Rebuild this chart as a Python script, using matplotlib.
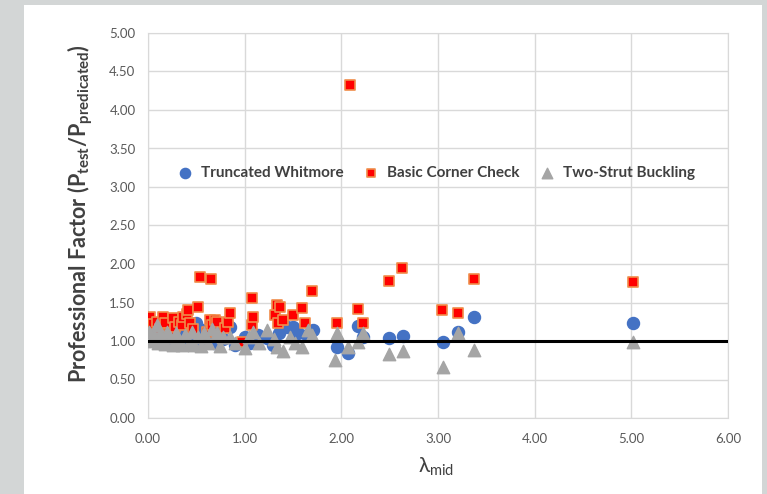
import matplotlib
matplotlib.use("Agg")
import matplotlib.pyplot as plt
from matplotlib.patches import Rectangle

plt.rcParams["font.family"] = ["Lato", "DejaVu Sans"]
plt.rcParams["mathtext.fontset"] = "custom"
plt.rcParams["mathtext.rm"] = "Lato"
plt.rcParams["mathtext.bf"] = "Lato:bold"

# Truncated Whitmore
whitmore_x = [0.02, 0.05, 0.08, 0.12, 0.15, 0.20, 0.24, 0.28, 0.33, 0.36, 0.40, 0.45,
              0.50, 0.55, 0.57, 0.62, 0.68, 0.72, 0.78, 0.85, 0.90, 1.00, 1.05, 1.14,
              1.23, 1.29, 1.35, 1.44, 1.50, 1.55, 1.64, 1.71, 1.95, 2.07, 2.17, 2.22,
              2.49, 2.64, 3.05, 3.21, 3.37, 5.02]
whitmore_y = [1.12, 1.20, 1.05, 1.15, 1.00, 1.10, 0.98, 1.08, 1.12, 0.96, 1.05, 1.18,
              1.23, 1.00, 1.14, 1.05, 0.98, 1.10, 1.02, 1.18, 0.95, 1.05, 0.97, 1.08,
              1.04, 0.95, 1.10, 1.18, 1.18, 1.10, 1.08, 1.14, 0.92, 0.84, 1.20, 1.05,
              1.04, 1.07, 0.99, 1.12, 1.31, 1.23]

# Basic Corner Check
corner_x = [0.02, 0.05, 0.09, 0.12, 0.16, 0.18, 0.22, 0.26, 0.28, 0.32, 0.35, 0.36,
            0.40, 0.41, 0.43, 0.47, 0.52, 0.54, 0.61, 0.64, 0.65, 0.66, 0.69, 0.71,
            0.80, 0.83, 0.85, 0.97, 1.08, 1.08, 1.09, 1.31, 1.33, 1.34, 1.37, 1.40,
            1.50, 1.59, 1.62, 1.70, 1.95, 2.09, 2.17, 2.22, 2.49, 2.63, 3.04, 3.21,
            3.37, 5.02]
corner_y = [1.31, 1.22, 1.25, 1.15, 1.31, 1.23, 1.10, 1.30, 1.18, 1.25, 1.21, 1.31,
            1.35, 1.40, 1.23, 1.15, 1.44, 1.83, 1.12, 1.27, 1.81, 1.21, 1.27, 1.25,
            1.17, 1.25, 1.36, 0.99, 1.56, 1.21, 1.31, 1.34, 1.47, 1.23, 1.44, 1.27,
            1.34, 1.43, 1.23, 1.65, 1.23, 4.32, 1.41, 1.23, 1.78, 1.95, 1.40, 1.36,
            1.80, 1.77]

# Two-Strut Buckling
strut_x = [0.01, 0.03, 0.06, 0.09, 0.10, 0.12, 0.15, 0.18, 0.20, 0.23, 0.26, 0.29,
           0.32, 0.35, 0.38, 0.42, 0.45, 0.48, 0.52, 0.55, 0.58, 0.62, 0.66, 0.71,
           0.74, 0.78, 0.85, 0.90, 1.00, 1.04, 1.09, 1.15, 1.23, 1.30, 1.33, 1.40,
           1.47, 1.52, 1.59, 1.65, 1.70, 1.93, 1.96, 2.07, 2.17, 2.22, 2.49, 2.64,
           3.05, 3.21, 3.37, 5.02]
strut_y = [1.12, 1.00, 1.08, 1.21, 0.97, 1.10, 1.03, 0.96, 1.12, 1.05, 0.95, 1.10,
           1.00, 0.95, 1.08, 0.97, 1.12, 0.95, 1.05, 0.94, 1.10, 0.98, 1.15, 1.10,
           0.93, 1.05, 1.05, 0.97, 0.91, 1.05, 1.12, 0.98, 1.14, 1.02, 0.92, 0.87,
           1.05, 0.98, 0.92, 1.14, 1.08, 0.75, 1.10, 0.92, 0.99, 1.10, 0.83, 0.87,
           0.66, 1.10, 0.88, 0.99]

x_ticks = [0, 1, 2, 3, 4, 5, 6]
y_ticks = [0, 0.5, 1.0, 1.5, 2.0, 2.5, 3.0, 3.5, 4.0, 4.5, 5.0]

fig = plt.figure(figsize=(7.67, 4.94), dpi=100)
fig.patch.set_facecolor("#d3d6d6")
fig.patches.append(Rectangle((24 / 767, 0), (762 - 24) / 767, 1 - 5 / 494,
                             transform=fig.transFigure, facecolor="white",
                             edgecolor="none", zorder=-10))

ax = fig.add_axes([148 / 767, 1 - 418 / 494, (728 - 148) / 767, (418 - 33) / 494])
ax.set_facecolor("white")

ax.scatter(whitmore_x, whitmore_y, s=75, marker="o", color="#4472C4",
           label="Truncated Whitmore", zorder=3)
ax.scatter(corner_x, corner_y, s=58, marker="s", facecolor="#FF0000",
           edgecolor="#F08C4A", linewidth=1.2, label="Basic Corner Check", zorder=4)
ax.scatter(strut_x, strut_y, s=80, marker="^", color="#A5A5A5",
           label="Two-Strut Buckling", zorder=5)
ax.plot([0, 6], [1.0, 1.0], color="black", linewidth=2.2, zorder=6)

ax.set_xlim(0, 6)
ax.set_ylim(0, 5)
ax.set_xticks(x_ticks)
ax.set_yticks(y_ticks)
ax.set_xticklabels(["{:.2f}".format(v) for v in x_ticks])
ax.set_yticklabels(["{:.2f}".format(v) for v in y_ticks])
ax.tick_params(length=0, labelsize=9.5, colors="#595959")
ax.tick_params(axis="x", pad=11)
ax.tick_params(axis="y", pad=9)
ax.grid(True, color="#D9D9D9", linewidth=1)
ax.set_axisbelow(True)
for spine in ax.spines.values():
    spine.set_color("#D9D9D9")

ax.set_ylabel(r"Professional Factor (P$_{\mathbf{test}}$/P$_{\mathbf{predicated}}$)",
              fontsize=15.5, fontweight="bold", color="#404040")
ax.yaxis.set_label_coords(-0.092, 0.53)
ax.set_xlabel(r"λ$_{\mathrm{mid}}$", fontsize=15, color="#404040")
ax.xaxis.set_label_coords(0.497, -0.098)

leg = ax.legend(loc="center", bbox_to_anchor=(0.49, 0.636), ncol=3, frameon=False,
                handletextpad=0.05, columnspacing=0.8, markerscale=0.85,
                prop={"weight": "bold", "size": 11})
for t in leg.get_texts():
    t.set_color("#404040")

plt.savefig("out.png", dpi=100, facecolor=fig.get_facecolor())
